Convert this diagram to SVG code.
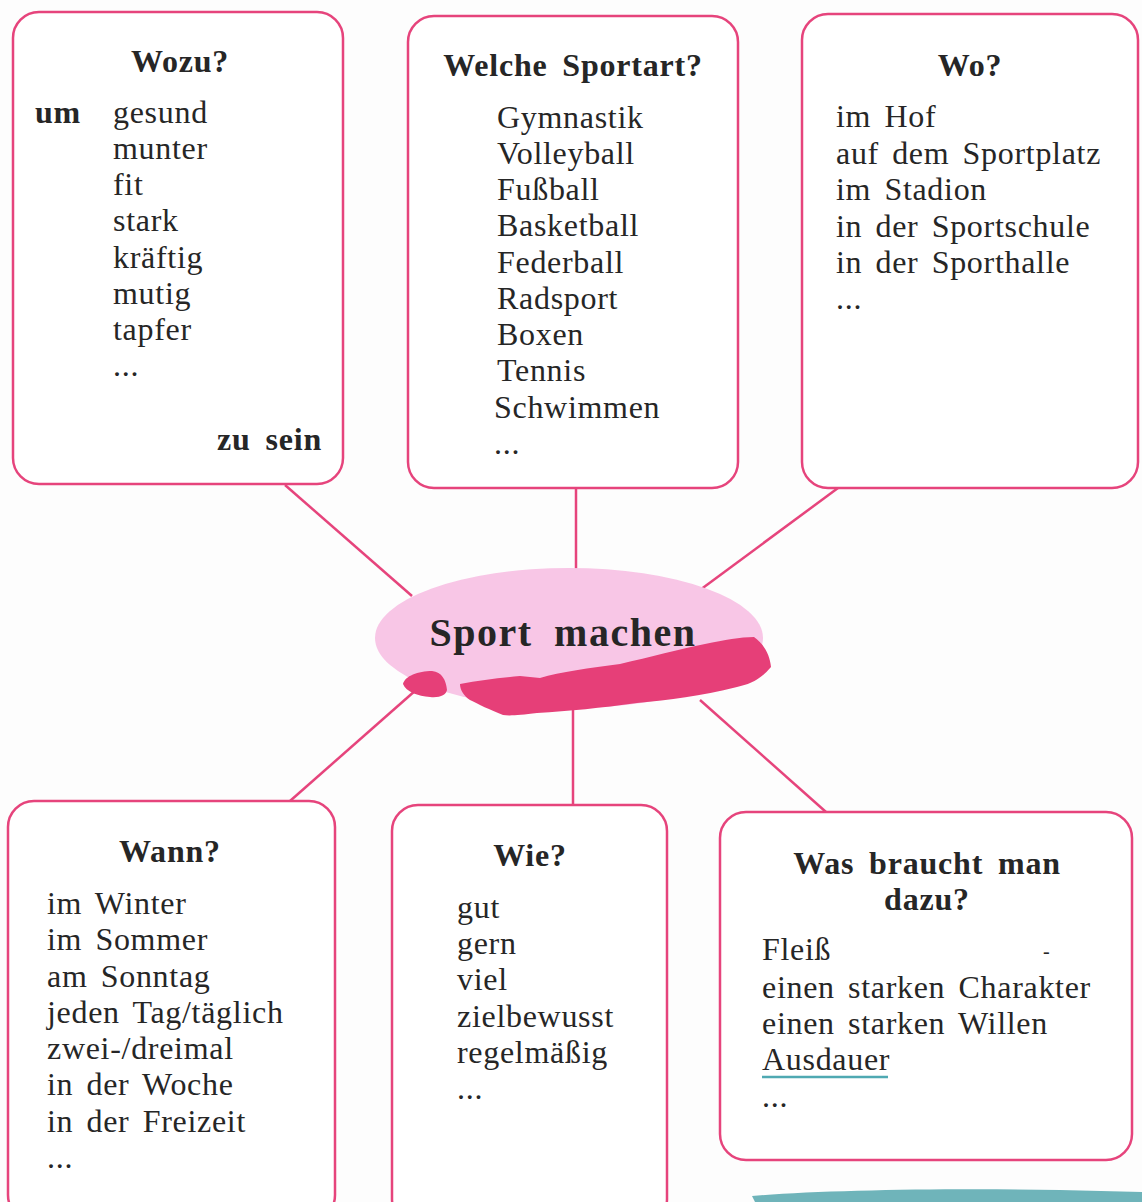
<svg xmlns="http://www.w3.org/2000/svg" width="1142" height="1202" viewBox="0 0 1142 1202">
  <style>
    .box { fill: #ffffff; stroke: #e6447c; stroke-width: 2.5; }
    .link { stroke: #e6447c; stroke-width: 2.5; fill: none; }
    text { font-family: "Liberation Serif", "Times New Roman", serif; fill: #262626; }
    .t { font-size: 32px; letter-spacing: 0.7px; word-spacing: 4.5px; }
    .h { font-size: 32px; font-weight: bold; letter-spacing: 0.8px; word-spacing: 6px; }
    .c { text-anchor: middle; }
  </style>
  <rect width="1142" height="1202" fill="#fdfdfd"/>

  <!-- connectors -->
  <g id="connectors">
    <line class="link" x1="285" y1="485" x2="412" y2="596"/>
    <line class="link" x1="576" y1="488" x2="576" y2="570"/>
    <line class="link" x1="838" y1="488" x2="700" y2="590"/>
    <line class="link" x1="416" y1="690" x2="290" y2="801"/>
    <line class="link" x1="573" y1="705" x2="573" y2="805"/>
    <line class="link" x1="700" y1="700" x2="826" y2="812"/>
  </g>

  <!-- centre -->
  <g id="centre">
    <ellipse cx="569" cy="638" rx="194" ry="70" fill="#f8c6e6"/>
    <!-- brush stroke under the title -->
    <path d="M403,684 C405,676 418,671 432,671 C442,672 446,680 447,690 C446,695 440,698 430,697 C418,696 406,692 403,684 Z" fill="#e63f78"/>
    <path d="M460,684 C480,680 500,678 520,676 L540,678 C560,672 590,668 620,664 C650,657 680,649 705,644 C725,640 740,637 754,637 C764,644 770,655 771,667 C760,680 750,684 737,687 C700,696 670,700 637,703 C600,708 570,711 537,713 C520,715 510,716 503,715 C490,710 478,704 470,700 C464,696 460,690 460,684 Z" fill="#e63f78"/>
    <text x="563" y="646" class="c" style="font-size:40px;font-weight:bold;letter-spacing:1.5px;word-spacing:10px">Sport machen</text>
  </g>

  <!-- Wozu? -->
  <g id="node-wozu">
    <rect class="box" x="13" y="12" width="330" height="472" rx="26"/>
    <text x="180" y="72" class="h c">Wozu?</text>
    <text x="35" y="123" class="h">um</text>
    <text x="113" y="123" class="t">gesund</text>
    <text x="113" y="159" class="t">munter</text>
    <text x="113" y="195" class="t">fit</text>
    <text x="113" y="231" class="t">stark</text>
    <text x="113" y="268" class="t">kräftig</text>
    <text x="113" y="304" class="t">mutig</text>
    <text x="113" y="340" class="t">tapfer</text>
    <text x="113" y="376" class="t">...</text>
    <text x="322" y="450" class="h" text-anchor="end">zu sein</text>
  </g>

  <!-- Welche Sportart? -->
  <g id="node-sportart">
    <rect class="box" x="408" y="16" width="330" height="472" rx="26"/>
    <text x="573" y="76" class="h c">Welche Sportart?</text>
    <text x="497" y="128" class="t">Gymnastik</text>
    <text x="497" y="164" class="t">Volleyball</text>
    <text x="497" y="200" class="t">Fußball</text>
    <text x="497" y="236" class="t">Basketball</text>
    <text x="497" y="273" class="t">Federball</text>
    <text x="497" y="309" class="t">Radsport</text>
    <text x="497" y="345" class="t">Boxen</text>
    <text x="497" y="381" class="t">Tennis</text>
    <text x="494" y="418" class="t">Schwimmen</text>
    <text x="494" y="454" class="t">...</text>
  </g>

  <!-- Wo? -->
  <g id="node-wo">
    <rect class="box" x="802" y="14" width="336" height="474" rx="26"/>
    <text x="970" y="76" class="h c">Wo?</text>
    <text x="836" y="127" class="t">im Hof</text>
    <text x="836" y="164" class="t">auf dem Sportplatz</text>
    <text x="836" y="200" class="t">im Stadion</text>
    <text x="836" y="237" class="t">in der Sportschule</text>
    <text x="836" y="273" class="t">in der Sporthalle</text>
    <text x="836" y="309" class="t">...</text>
  </g>

  <!-- Wann? -->
  <g id="node-wann">
    <rect class="box" x="8" y="801" width="327" height="420" rx="26"/>
    <text x="170" y="862" class="h c">Wann?</text>
    <text x="47" y="914" class="t">im Winter</text>
    <text x="47" y="950" class="t">im Sommer</text>
    <text x="47" y="987" class="t">am Sonntag</text>
    <text x="47" y="1023" class="t">jeden Tag/täglich</text>
    <text x="47" y="1059" class="t">zwei-/dreimal</text>
    <text x="47" y="1095" class="t">in der Woche</text>
    <text x="47" y="1132" class="t">in der Freizeit</text>
    <text x="47" y="1168" class="t">...</text>
  </g>

  <!-- Wie? -->
  <g id="node-wie">
    <rect class="box" x="392" y="805" width="275" height="420" rx="26"/>
    <text x="530" y="866" class="h c">Wie?</text>
    <text x="457" y="918" class="t">gut</text>
    <text x="457" y="954" class="t">gern</text>
    <text x="457" y="990" class="t">viel</text>
    <text x="457" y="1027" class="t">zielbewusst</text>
    <text x="457" y="1063" class="t">regelmäßig</text>
    <text x="457" y="1099" class="t">...</text>
  </g>

  <!-- Was braucht man dazu? -->
  <g id="node-dazu">
    <rect class="box" x="720" y="812" width="412" height="348" rx="26"/>
    <text x="927" y="874" class="h c">Was braucht man</text>
    <text x="927" y="910" class="h c">dazu?</text>
    <text x="762" y="960" class="t">Fleiß</text>
    <text x="1043" y="958" class="t" style="font-size:20px">-</text>
    <text x="762" y="998" class="t">einen starken Charakter</text>
    <text x="762" y="1034" class="t">einen starken Willen</text>
    <text x="762" y="1070" class="t">Ausdauer</text>
    <line x1="762" y1="1077" x2="888" y2="1077" stroke="#4fa9b2" stroke-width="2.5"/>
    <text x="762" y="1107" class="t">...</text>
  </g>

  <!-- teal brush stroke along the lower edge -->
  <path d="M752,1196 C820,1190 950,1188 1060,1190 L1142,1192 L1142,1202 L755,1202 Z" fill="#6fb4ba"/>
</svg>
